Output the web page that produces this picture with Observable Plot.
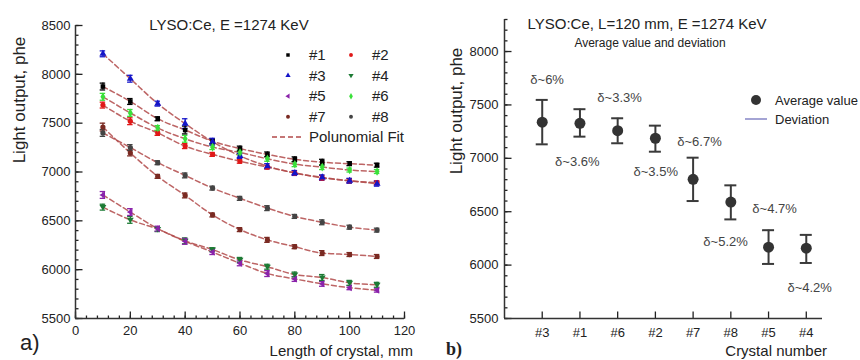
<!DOCTYPE html>
<html><head><meta charset="utf-8">
<script src="https://cdn.jsdelivr.net/npm/d3@7"></script>
<script src="https://cdn.jsdelivr.net/npm/@observablehq/plot@0.6"></script>
<style>
body{margin:0;background:#fff;font-family:"Liberation Sans",Arial,sans-serif;color:#222}
#wrap{position:relative;width:860px;height:360px;overflow:hidden}
.abs{position:absolute;white-space:nowrap;line-height:1}
.c{transform:translate(-50%,-50%)}
.l{transform:translate(0,-50%)}
.r{transform:translate(-100%,-50%)}
.rot{transform:translate(-50%,-50%) rotate(-90deg)}
</style></head>
<body><div id="wrap"></div>
<script>
// ---------- Panel a) data ----------
const lengths = [10, 20, 30, 40, 50, 60, 70, 80, 90, 100, 110];
const seriesNames = ["#1", "#2", "#3", "#4", "#5", "#6", "#7", "#8"];
const s1 = [7875, 7722, 7545, 7430, 7315, 7240, 7180, 7130, 7100, 7085, 7070];
const s2 = [7685, 7520, 7400, 7265, 7180, 7110, 7050, 6990, 6940, 6910, 6890];
const s3 = [8210, 7955, 7700, 7495, 7310, 7165, 7060, 6990, 6945, 6910, 6880];
const s4 = [6640, 6510, 6415, 6295, 6205, 6100, 6030, 5950, 5920, 5865, 5845];
const s5 = [6765, 6590, 6420, 6290, 6180, 6065, 5960, 5905, 5855, 5815, 5790];
const s6 = [7770, 7605, 7450, 7340, 7255, 7200, 7135, 7080, 7050, 7020, 7005];
const s7 = [7460, 7195, 6955, 6760, 6560, 6410, 6305, 6235, 6170, 6155, 6135];
const s8 = [7400, 7250, 7095, 6965, 6835, 6730, 6630, 6545, 6485, 6435, 6405];
const e1 = [35, 30, 20, 40, 25, 25, 25, 25, 30, 20, 20];
const e2 = [30, 35, 25, 25, 20, 20, 20, 20, 25, 20, 20];
const e3 = [30, 35, 25, 50, 35, 25, 25, 25, 25, 25, 25];
const e4 = [30, 35, 25, 30, 20, 25, 25, 25, 30, 25, 25];
const e5 = [35, 35, 25, 30, 25, 25, 30, 25, 25, 20, 20];
const e6 = [35, 35, 25, 35, 25, 25, 25, 25, 25, 20, 20];
const e7 = [40, 30, 20, 25, 20, 20, 25, 20, 25, 20, 20];
const e8 = [35, 30, 20, 25, 20, 20, 25, 20, 25, 20, 20];
const seriesValues = [s1, s2, s3, s4, s5, s6, s7, s8];
const seriesErrors = [e1, e2, e3, e4, e5, e6, e7, e8];
const seriesColors = ["#000000", "#e01818", "#1414c8", "#1c7a34", "#8a22aa", "#3ae03a", "#7a2a22", "#444444"];
const xTicksA = [0, 20, 40, 60, 80, 100, 120];
const xMinorA = d3.range(0, 121, 4);
const yTicksA = [5500, 6000, 6500, 7000, 7500, 8000, 8500];
const yMinorA = d3.range(5500, 8501, 100);

// ---------- Panel b) data ----------
const crystals = ["#3", "#1", "#6", "#2", "#7", "#8", "#5", "#4"];
const avgValue = [7338, 7328, 7259, 7188, 6803, 6590, 6168, 6158];
const devLow = [7131, 7203, 7141, 7062, 6600, 6428, 6011, 6020];
const devHigh = [7547, 7460, 7375, 7306, 7006, 6747, 6327, 6283];
const deltaText = ["δ~6%", "δ~3.6%", "δ~3.3%", "δ~3.5%", "δ~6.7%", "δ~4.7%", "δ~5.2%", "δ~4.2%"];
const deltaAtIndex = [1.13, 1.93, 3.05, 4.01, 5.17, 7.16, 5.86, 8.09];
const deltaAtValue = [7737, 6971, 7571, 6877, 7156, 6524, 6218, 5789];
const yTicksB = [5500, 6000, 6500, 7000, 7500, 8000];
const yMinorB = d3.range(5500, 8301, 100);

// ---------- symbols ----------
const triDown = {draw(c, size){const s=Math.sqrt(size)*0.75;c.moveTo(-s,-s*0.6);c.lineTo(s,-s*0.6);c.lineTo(0,s);c.closePath();}};
const triLeft = {draw(c, size){const s=Math.sqrt(size)*0.75;c.moveTo(-s,0);c.lineTo(s*0.6,-s);c.lineTo(s*0.6,s);c.closePath();}};
const seriesSymbols = [d3.symbolSquare, d3.symbolCircle, d3.symbolTriangle, triDown, triLeft, d3.symbolDiamond, d3.symbolCircle, d3.symbolCircle];

const rowsA = [];
seriesNames.forEach((name, i) => {
  lengths.forEach((x, j) => rowsA.push({series: name, x, y: seriesValues[i][j], err: seriesErrors[i][j]}));
});
const rowsB = crystals.map((c, i) => ({name: c, i: i + 1, v: avgValue[i], lo: devLow[i], hi: devHigh[i]}));
const labelsB = deltaText.map((t, i) => ({t, x: deltaAtIndex[i], y: deltaAtValue[i]}));

const font = {fontFamily: '"Liberation Sans", Arial, sans-serif', fontSize: "13px", background: "transparent", color: "#222", overflow: "visible"};
const plain = d => String(d);

// inward tick marks built as link marks (pixel length -> data units)
function frame(W, H, m, xd, yd) {
  const kx = (xd[1] - xd[0]) / (W - m.l - m.r), ky = (yd[1] - yd[0]) / (H - m.t - m.b);
  return {
    yTicks: (ticks, px) => Plot.link(ticks.map(v => ({v, a: xd[0], b: xd[0] + px * kx})),
      {x1: "a", x2: "b", y1: "v", y2: "v", stroke: "#222", strokeWidth: 1.3}),
    xTicks: (ticks, px) => Plot.link(ticks.map(v => ({v, a: yd[0], b: yd[0] + px * ky})),
      {x1: "v", x2: "v", y1: "a", y2: "b", stroke: "#222", strokeWidth: 1.3}),
    kx
  };
}
const mA = {l: 75, r: 26, t: 25, b: 42}, xdA = [0, 120], ydA = [5500, 8500];
const mB = {l: 74, r: 38, t: 19, b: 42}, xdB = [0, 8.43], ydB = [5500, 8300];
const fA = frame(430, 360, mA, xdA, ydA);
const fB = frame(430, 360, mB, xdB, ydB);

const plotA = Plot.plot({
  width: 430, height: 360,
  marginLeft: mA.l, marginRight: mA.r, marginTop: mA.t, marginBottom: mA.b,
  style: font,
  x: {domain: xdA},
  y: {domain: ydA},
  color: {domain: seriesNames, range: seriesColors},
  symbol: {domain: seriesNames, range: seriesSymbols},
  marks: [
    Plot.axisY({ticks: yTicksA, tickSize: 0, tickPadding: 5, tickFormat: plain, label: null, fontSize: 13}),
    Plot.axisX({ticks: xTicksA, tickSize: 0, tickPadding: 7, tickFormat: plain, label: null, fontSize: 13}),
    fA.yTicks(yMinorA, 3),
    fA.yTicks(yTicksA, 7),
    fA.xTicks(xMinorA, 3),
    fA.xTicks(xTicksA, 7),
    Plot.ruleX([xdA[0]], {stroke: "#333", strokeWidth: 1.5}),
    Plot.ruleY([ydA[0]], {stroke: "#333", strokeWidth: 1.5}),
    Plot.line(rowsA, {x: "x", y: "y", z: "series", stroke: "#b24a4a", strokeWidth: 1.5, strokeDasharray: "5,3", strokeOpacity: 0.85, curve: "monotone-x"}),
    Plot.ruleX(rowsA, {x: "x", y1: d => d.y - d.err, y2: d => d.y + d.err, stroke: "series", strokeWidth: 1.3}),
    Plot.ruleY(rowsA, {y: d => d.y + d.err, x1: d => d.x - 1, x2: d => d.x + 1, stroke: "series", strokeWidth: 1.3}),
    Plot.ruleY(rowsA, {y: d => d.y - d.err, x1: d => d.x - 1, x2: d => d.x + 1, stroke: "series", strokeWidth: 1.3}),
    Plot.dot(rowsA, {x: "x", y: "y", fill: "series", symbol: "series", r: 2.6, stroke: null})
  ]
});

const plotB = Plot.plot({
  width: 430, height: 360,
  marginLeft: mB.l, marginRight: mB.r, marginTop: mB.t, marginBottom: mB.b,
  style: font,
  x: {domain: xdB},
  y: {domain: ydB},
  marks: [
    Plot.axisY({ticks: yTicksB, tickSize: 0, tickPadding: 6, tickFormat: plain, label: null, fontSize: 13}),
    Plot.axisX({ticks: d3.range(1, 9), tickSize: 0, tickPadding: 9, tickFormat: i => crystals[i - 1], label: null, fontSize: 13}),
    fB.yTicks(yMinorB, 3),
    fB.yTicks(yTicksB, 7),
    fB.xTicks(d3.range(1, 9), 7),
    Plot.ruleX([xdB[0]], {stroke: "#333", strokeWidth: 1.5}),
    Plot.ruleY([ydB[0]], {stroke: "#333", strokeWidth: 1.5}),
    Plot.ruleX(rowsB, {x: "i", y1: "lo", y2: "hi", stroke: "#3a3a3a", strokeWidth: 2}),
    Plot.ruleY(rowsB, {y: "hi", x1: d => d.i - 6 * fB.kx, x2: d => d.i + 6 * fB.kx, stroke: "#3a3a3a", strokeWidth: 2}),
    Plot.ruleY(rowsB, {y: "lo", x1: d => d.i - 6 * fB.kx, x2: d => d.i + 6 * fB.kx, stroke: "#3a3a3a", strokeWidth: 2}),
    Plot.dot(rowsB, {x: "i", y: "v", r: 5.5, fill: "#333"}),
    Plot.text(labelsB, {x: "x", y: "y", text: "t", fontSize: 13, fill: "#444"})
  ]
});

const wrap = document.getElementById("wrap");
plotA.style.position = "absolute"; plotA.style.left = "0px"; plotA.style.top = "0px";
plotB.style.position = "absolute"; plotB.style.left = "430px"; plotB.style.top = "0px";
wrap.appendChild(plotA); wrap.appendChild(plotB);

function addText(txt, x, y, cls, style) {
  const d = document.createElement("div");
  d.className = "abs " + cls;
  d.textContent = txt;
  d.style.left = x + "px"; d.style.top = y + "px";
  Object.assign(d.style, style || {});
  wrap.appendChild(d);
  return d;
}
// Panel a texts
addText("LYSO:Ce, E =1274 KeV", 229, 24, "c", {fontSize: "15px"});
addText("Light output, phe", 19, 100, "rot", {fontSize: "17px"});
addText("Length of crystal, mm", 413, 350, "r", {fontSize: "15px"});
addText("a)", 20, 343, "l", {fontSize: "22px"});
// Panel b texts
addText("LYSO:Ce, L=120 mm, E =1274 KeV", 647, 23, "c", {fontSize: "15px"});
addText("Average value and deviation", 650, 43, "c", {fontSize: "12px"});
addText("Light output, phe", 456, 111, "rot", {fontSize: "17px"});
addText("Crystal number", 827, 350, "r", {fontSize: "15px"});
addText("b)", 446, 349, "l", {fontSize: "18px", fontWeight: "bold", fontFamily: '"Liberation Serif", serif'});

// Legend panel a
const legA = d3.select(wrap).append("svg").attr("width", 180).attr("height", 110)
  .style("position", "absolute").style("left", "265px").style("top", "42px").style("overflow", "visible");
seriesNames.forEach((name, i) => {
  const col = i % 2, row = Math.floor(i / 2);
  const sx = col === 0 ? 23 : 86, ty = 13 + row * 20.6;
  legA.append("path").attr("transform", `translate(${sx},${ty})`)
    .attr("d", d3.symbol(seriesSymbols[i], 12)()).attr("fill", seriesColors[i]);
  legA.append("text").attr("x", sx + 21).attr("y", ty).attr("dy", "0.35em")
    .attr("font-size", 15).attr("font-family", '"Liberation Sans", Arial, sans-serif').attr("fill", "#222").text(name);
});
legA.append("line").attr("x1", 7).attr("x2", 38).attr("y1", 95).attr("y2", 95)
  .attr("stroke", "#b24a4a").attr("stroke-width", 1.5).attr("stroke-dasharray", "5,3");
legA.append("text").attr("x", 44).attr("y", 95).attr("dy", "0.35em")
  .attr("font-size", 15).attr("font-family", '"Liberation Sans", Arial, sans-serif').attr("fill", "#222").text("Polunomial Fit");

// Legend panel b
const legB = d3.select(wrap).append("svg").attr("width", 120).attr("height", 40)
  .style("position", "absolute").style("left", "740px").style("top", "88px").style("overflow", "visible");
legB.append("circle").attr("cx", 16).attr("cy", 12).attr("r", 5).attr("fill", "#333");
legB.append("text").attr("x", 35).attr("y", 12).attr("dy", "0.35em").attr("font-size", 13)
  .attr("font-family", '"Liberation Sans", Arial, sans-serif').attr("fill", "#222").text("Average value");
legB.append("line").attr("x1", 5).attr("x2", 27).attr("y1", 31).attr("y2", 31).attr("stroke", "#9a9ad0").attr("stroke-width", 1.8);
legB.append("text").attr("x", 35).attr("y", 31).attr("dy", "0.35em").attr("font-size", 13)
  .attr("font-family", '"Liberation Sans", Arial, sans-serif').attr("fill", "#222").text("Deviation");
</script>
</body></html>
